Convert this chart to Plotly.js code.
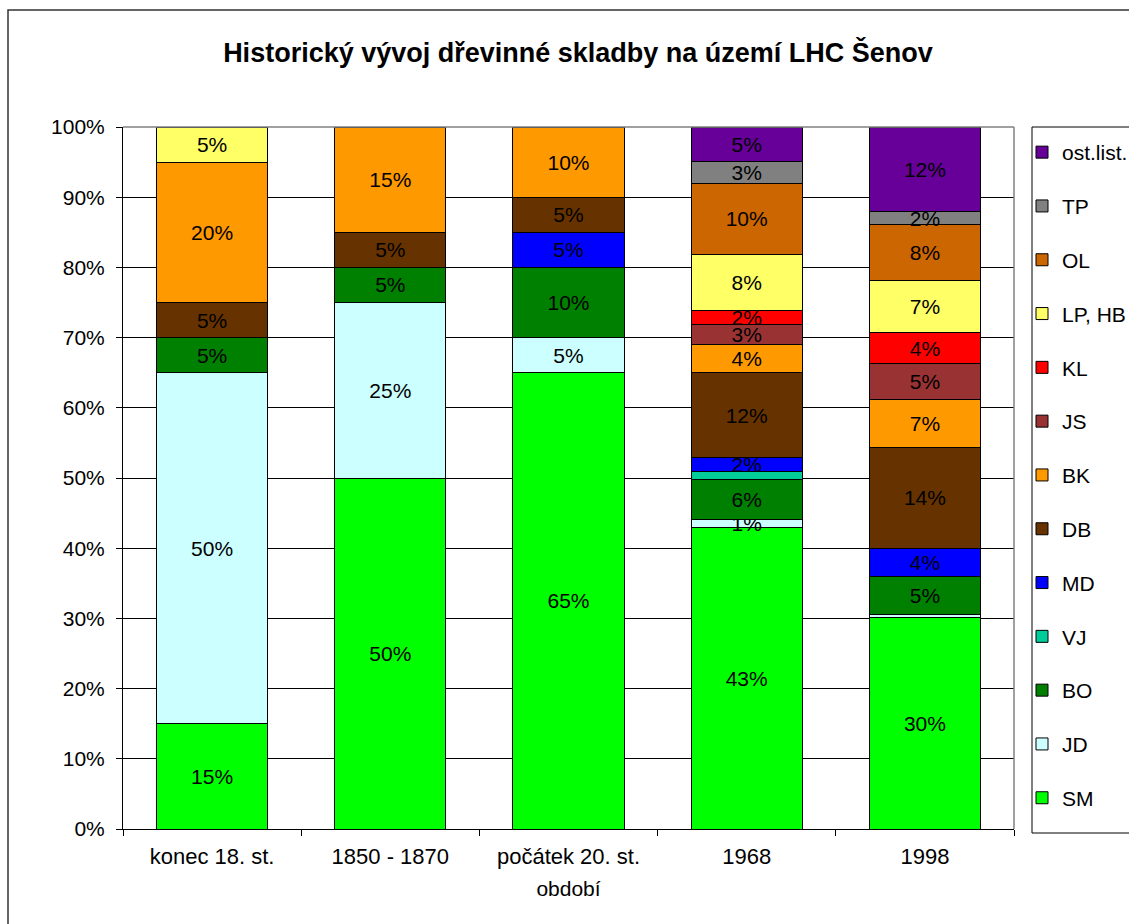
<!DOCTYPE html>
<html>
<head>
<meta charset="utf-8">
<script src="https://cdn.plot.ly/plotly-3.0.1.min.js"></script>
<style>html,body{margin:0;padding:0;background:#fff;}#chart{width:1129px;height:924px;}</style>
</head>
<body>
<div id="chart"></div>
<script>
// Categories (periods)
const periods = ['konec 18. st.', '1850 - 1870', 'počátek 20. st.', '1968', '1998'];

// Series values (% share of each species per period)
const SM  = [15, 50, 65, 43.0, 30.2];
const JD  = [50, 25, 5, 1.1, 0.3];
const BO  = [5, 5, 10, 5.7, 5.4];
const VJ  = [0, 0, 0, 1.1, 0.1];
const MD  = [0, 0, 5, 2.0, 4.0];
const DB  = [5, 5, 5, 12.1, 14.4];
const BK  = [20, 15, 10, 4.0, 6.8];
const JS  = [0, 0, 0, 2.9, 5.1];
const KL  = [0, 0, 0, 1.9, 4.4];
const LP  = [5, 0, 0, 8.1, 7.4];
const OL  = [0, 0, 0, 10.1, 8.0];
const TP  = [0, 0, 0, 3.1, 1.8];
const OST = [0, 0, 0, 4.9, 12.1];

// Series names (bottom to top)
const seriesNames = ['SM', 'JD', 'BO', 'VJ', 'MD', 'DB', 'BK', 'JS', 'KL', 'LP, HB', 'OL', 'TP', 'ost.list.'];
const seriesValues = [SM, JD, BO, VJ, MD, DB, BK, JS, KL, LP, OL, TP, OST];
const seriesColors = ['#00FF00', '#CCFFFF', '#008000', '#00CC99', '#0000FF', '#663300', '#FF9900', '#993333', '#FF0000', '#FFFF66', '#CC6600', '#808080', '#660099'];
const seriesLabelled = [true, true, true, false, true, true, true, true, true, true, true, true, true];

const FONT = 'Arial, "Liberation Sans", sans-serif';
const FS = 21;

const traces = seriesNames.map((name, i) => ({
  type: 'bar',
  name: name,
  x: periods,
  y: seriesValues[i],
  legendgroup: 'g' + i,
  legendrank: 100 - i,
  marker: {color: seriesColors[i], line: {color: '#000', width: 1}},
  text: seriesValues[i].map(v => (seriesLabelled[i] && v >= 1) ? Math.round(v) + '%' : ''),
  textposition: 'inside',
  insidetextanchor: 'middle',
  textangle: 0,
  insidetextfont: {family: FONT, size: FS, color: '#000'},
  hoverinfo: 'name+y'
}));

const layout = {
  width: 1129,
  height: 924,
  barmode: 'stack',
  bargap: 0.377,
  paper_bgcolor: '#fff',
  plot_bgcolor: '#fff',
  margin: {l: 123, r: 115, t: 127, b: 95, pad: 0, autoexpand: false},
  font: {family: FONT, size: FS, color: '#000'},
  uniformtext: {mode: 'show', minsize: FS},
  title: {
    text: '<b>Historický vývoj dřevinné skladby na území LHC Šenov</b>',
    font: {family: FONT, size: 27, color: '#000'},
    x: 578 / 1129, xref: 'container', xanchor: 'center',
    y: 1 - 53 / 924, yref: 'container', yanchor: 'middle'
  },
  xaxis: {
    type: 'category',
    showgrid: false,
    showline: true,
    linecolor: '#000',
    linewidth: 1,
    ticks: 'outside',
    tickson: 'boundaries',
    ticklen: 6,
    tickcolor: '#000',
    tickfont: {family: FONT, size: 22, color: '#000'},
    ticklabelstandoff: 8,
    title: {text: 'období', font: {family: FONT, size: FS, color: '#000'}, standoff: 12},
    fixedrange: true
  },
  yaxis: {
    range: [0, 100],
    dtick: 10,
    tick0: 0,
    ticksuffix: '%',
    showgrid: true,
    gridcolor: '#000',
    gridwidth: 1,
    zeroline: false,
    showline: true,
    linecolor: '#000',
    linewidth: 1,
    ticks: 'outside',
    ticklen: 6,
    tickcolor: '#000',
    tickfont: {family: FONT, size: FS, color: '#000'},
    ticklabelstandoff: 7,
    fixedrange: true
  },
  legend: {
    xref: 'container',
    x: 1022 / 1129,
    xanchor: 'left',
    yref: 'container',
    y: 1 - 132 / 924,
    yanchor: 'top',
    traceorder: 'grouped',
    tracegroupgap: 23.5,
    maxheight: 900,
    borderwidth: 0,
    bgcolor: 'rgba(0,0,0,0)',
    font: {family: FONT, size: FS, color: '#000'},
    itemwidth: 30
  },
  shapes: [
    // outer chart frame
    {type: 'rect', xref: 'paper', yref: 'paper', x0: (8 - 123) / 891, x1: 1.5, y0: -0.5, y1: (829 - 10) / 702,
     line: {color: '#333', width: 1.5}, fillcolor: 'rgba(0,0,0,0)', layer: 'below'},
    // legend box
    {type: 'rect', xref: 'paper', yref: 'paper', x0: (1032 - 123) / 891, x1: 1.4, y0: (829 - 833) / 702, y1: 1,
     line: {color: '#000', width: 1}, fillcolor: 'rgba(0,0,0,0)', layer: 'below'},
    // plot area top & right border (grey)
    {type: 'line', xref: 'paper', yref: 'paper', x0: 0, x1: 1, y0: 1, y1: 1, line: {color: '#808080', width: 1.5}, layer: 'above'},
    {type: 'line', xref: 'paper', yref: 'paper', x0: 1, x1: 1, y0: 0, y1: 1, line: {color: '#808080', width: 1.5}, layer: 'above'}
  ],
  showlegend: true
};

Plotly.newPlot('chart', traces, layout, {displayModeBar: false, staticPlot: true});
</script>
</body>
</html>
